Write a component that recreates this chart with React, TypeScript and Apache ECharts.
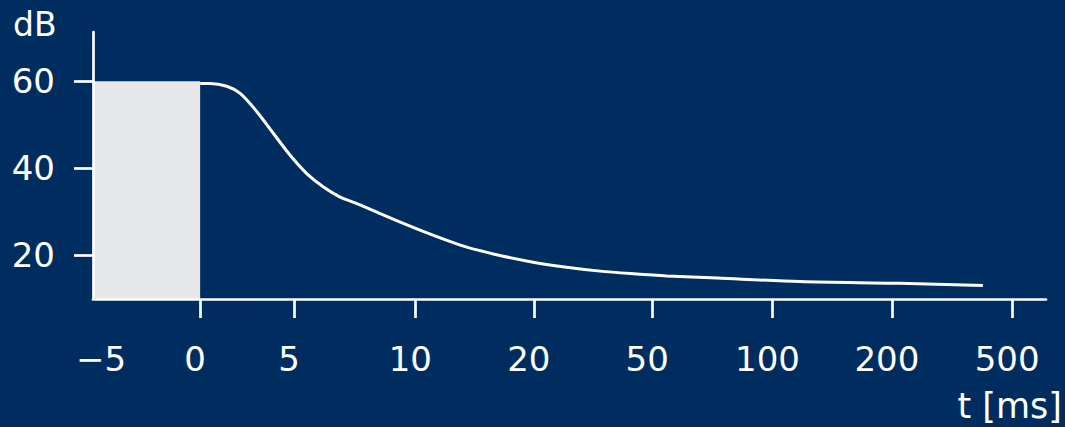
import React, { useEffect, useRef } from "react";
import * as echarts from "echarts";

// x axis: tick values (ms), their labels and their place on the (non-linear) axis
const TICK_T = [-5, 0, 5, 10, 20, 50, 100, 200, 500];
const TICK_LABELS = ["−5", "0", "5", "10", "20", "50", "100", "200", "500"];
const TICK_U = [-1, 0, 1, 2.29, 3.55, 4.81, 6.09, 7.36, 8.64];
const X_MIN_U = -1.14;
const X_MAX_U = 9.0;

// y axis (dB)
const Y_TICKS = [20, 40, 60];
const Y_MIN = 10;
const Y_MAX = 71.3;

// decay curve: time (ms) and level (dB)
const CURVE_T = [0, 0.53, 1.42, 2.13, 3.02, 3.9, 4.79, 5.52, 6.21, 6.9, 7.59, 9.38, 11.54, 14.34, 17.14, 19.94, 28.3, 36.8, 45.2, 56.1, 77, 123, 220, 427];
const CURVE_DB = [59.5, 59.5, 58.85, 57.2, 53.0, 48.0, 43.0, 38.8, 35.7, 33.4, 31.9, 27.65, 24.6, 21.9, 20.0, 18.46, 17.3, 16.4, 15.8, 15.3, 14.8, 14.0, 13.6, 13.1];

// excitation pulse (grey block): ends at t = 0 with level 60 dB
const PULSE_END_T = 0;
const PULSE_LEVEL = 60;

function toU(t: number): number {
  for (let i = 0; i < TICK_T.length - 1; i++) {
    if (t <= TICK_T[i + 1]) {
      const f = (t - TICK_T[i]) / (TICK_T[i + 1] - TICK_T[i]);
      return TICK_U[i] + f * (TICK_U[i + 1] - TICK_U[i]);
    }
  }
  return TICK_U[TICK_U.length - 1];
}

export default function App() {
  const ref = useRef<HTMLDivElement>(null);
  useEffect(() => {
    document.body.style.margin = "0";
    const chart = echarts.init(ref.current!, null, { renderer: "svg" });
    const font = "DejaVu Sans";
    const white = "#ffffff";
    const curve = CURVE_T.map((t, i) => [toU(t), CURVE_DB[i]]);
    chart.setOption({
      animation: false,
      backgroundColor: "#002d5f",
      textStyle: { fontFamily: font },
      grid: { left: 93, right: 19, top: 32, bottom: 128, containLabel: false },
      xAxis: {
        type: "value",
        min: X_MIN_U,
        max: X_MAX_U,
        z: 10,
        axisLine: { show: true, onZero: false, lineStyle: { color: white, width: 2.7 } },
        axisTick: { show: true, customValues: TICK_U.slice(1), length: 19, lineStyle: { color: white, width: 2.7 } },
        axisLabel: {
          show: true,
          customValues: TICK_U,
          color: white,
          fontSize: 34,
          fontFamily: font,
          margin: 43,
          padding: [0, 10, 0, 0],
          formatter: (v: number) => {
            let best = 0;
            for (let i = 1; i < TICK_U.length; i++) {
              if (Math.abs(TICK_U[i] - v) < Math.abs(TICK_U[best] - v)) best = i;
            }
            return TICK_LABELS[best];
          },
        },
        splitLine: { show: false },
      },
      yAxis: {
        type: "value",
        min: Y_MIN,
        max: Y_MAX,
        z: 10,
        axisLine: { show: true, onZero: false, lineStyle: { color: white, width: 2.7 } },
        axisTick: { show: true, customValues: Y_TICKS, length: 19, lineStyle: { color: white, width: 2.7 } },
        axisLabel: {
          show: true,
          customValues: Y_TICKS,
          color: white,
          fontSize: 34,
          fontFamily: font,
          margin: 38,
        },
        splitLine: { show: false },
      },
      graphic: [
        {
          type: "text",
          x: 13,
          y: 24,
          style: { text: "dB", fill: white, font: `33px '${font}'`, textAlign: "left", textVerticalAlign: "middle" },
        },
        {
          type: "text",
          x: 1062,
          y: 406,
          style: { text: "t [ms]", fill: white, font: `35px '${font}'`, textAlign: "right", textVerticalAlign: "middle" },
        },
      ],
      series: [
        {
          type: "line",
          data: curve,
          smooth: 0.3,
          showSymbol: false,
          lineStyle: { color: white, width: 3 },
          z: 3,
          markArea: {
            silent: true,
            itemStyle: { color: "#e6e7e9" },
            data: [[{ xAxis: X_MIN_U, yAxis: Y_MIN }, { xAxis: toU(PULSE_END_T), yAxis: PULSE_LEVEL }]],
          },
        },
      ],
    });
    return () => chart.dispose();
  }, []);
  return <div ref={ref} style={{ width: 1065, height: 427 }} />;
}
